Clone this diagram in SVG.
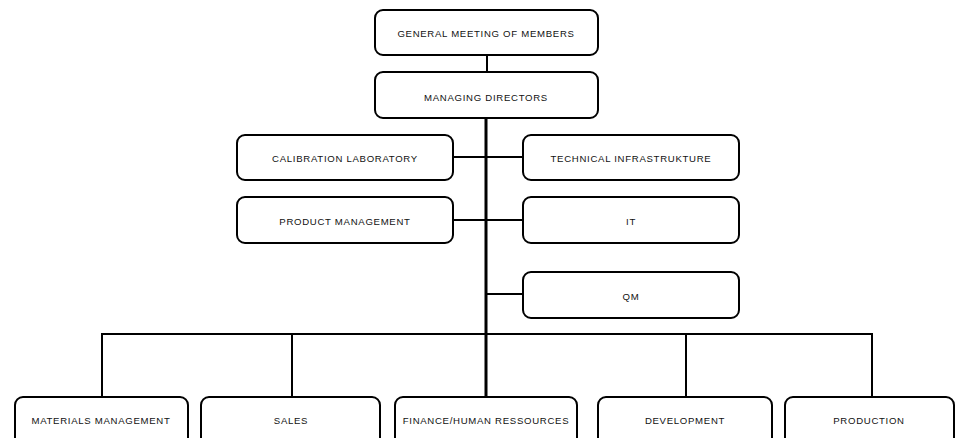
<svg xmlns="http://www.w3.org/2000/svg" width="955" height="438" viewBox="0 0 955 438">
<style>
.box{fill:#fff;stroke:#000;stroke-width:2}
.t{font-family:"Liberation Sans",Arial,sans-serif;font-size:9.6px;letter-spacing:0.7px;fill:#111;text-anchor:middle;dominant-baseline:central}
.c{stroke:#000;stroke-width:2;fill:none}
.m{stroke:#000;stroke-width:3;fill:none}
</style>
<rect width="955" height="438" fill="#fff"/>
<g id="connectors">
<line class="c" x1="487" y1="55" x2="487" y2="72"/>
<line class="m" x1="486" y1="118" x2="486" y2="397"/>
<line class="c" x1="453" y1="157" x2="523" y2="157"/>
<line class="c" x1="453" y1="220" x2="523" y2="220"/>
<line class="c" x1="486" y1="294" x2="523" y2="294"/>
<polyline class="c" points="102,397 102,334 872,334 872,397"/>
<line class="c" x1="292" y1="334" x2="292" y2="397"/>
<line class="c" x1="686" y1="334" x2="686" y2="397"/>
</g>
<g id="n-general"><rect class="box" x="375" y="10" width="223" height="45" rx="8"/><text class="t" x="486" y="33">GENERAL MEETING OF MEMBERS</text></g>
<g id="n-md"><rect class="box" x="375" y="72" width="223" height="46" rx="8"/><text class="t" x="486" y="97">MANAGING DIRECTORS</text></g>
<g id="n-cal"><rect class="box" x="237" y="135" width="216" height="45" rx="8"/><text class="t" x="345" y="158">CALIBRATION LABORATORY</text></g>
<g id="n-tech"><rect class="box" x="523" y="135" width="216" height="45" rx="8"/><text class="t" x="631" y="158">TECHNICAL INFRASTRUKTURE</text></g>
<g id="n-pm"><rect class="box" x="237" y="197" width="216" height="46" rx="8"/><text class="t" x="345" y="221">PRODUCT MANAGEMENT</text></g>
<g id="n-it"><rect class="box" x="523" y="197" width="216" height="46" rx="8"/><text class="t" x="631" y="221">IT</text></g>
<g id="n-qm"><rect class="box" x="523" y="272" width="216" height="46" rx="8"/><text class="t" x="631" y="296">QM</text></g>
<g id="n-mat"><rect class="box" x="15" y="397" width="173" height="50" rx="8"/><text class="t" x="101" y="420">MATERIALS MANAGEMENT</text></g>
<g id="n-sales"><rect class="box" x="201" y="397" width="179" height="50" rx="8"/><text class="t" x="291" y="420">SALES</text></g>
<g id="n-fin"><rect class="box" x="395" y="397" width="182" height="50" rx="8"/><text class="t" x="486" y="420">FINANCE/HUMAN RESSOURCES</text></g>
<g id="n-dev"><rect class="box" x="598" y="397" width="174" height="50" rx="8"/><text class="t" x="685" y="420">DEVELOPMENT</text></g>
<g id="n-prod"><rect class="box" x="785" y="397" width="169" height="50" rx="8"/><text class="t" x="869" y="420">PRODUCTION</text></g>
</svg>
